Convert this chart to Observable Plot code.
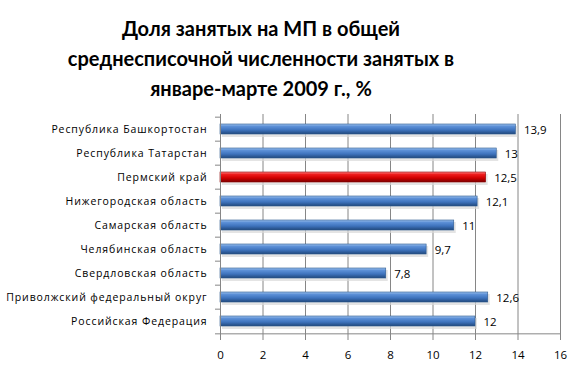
<!DOCTYPE html>
<html>
<head>
<meta charset="utf-8">
<script src="https://cdn.jsdelivr.net/npm/d3@7"></script>
<script src="https://cdn.jsdelivr.net/npm/@observablehq/plot@0.6"></script>
<style>
  html, body { margin: 0; padding: 0; background: #fff; }
  #wrap { width: 582px; height: 379px; position: relative; overflow: hidden; }
  #title { position: absolute; left: 0; top: 13px; width: 522px; text-align: center;
    font-family: Lato, "Open Sans", sans-serif; font-weight: bold; font-size: 20px; line-height: 30px; color: #000; }
  #chart { position: absolute; left: 0; top: 105px; }
  #chart g[aria-label="y-axis tick label"] text { letter-spacing: 0.9px; }
</style>
</head>
<body>
<div id="wrap">
  <div id="title">Доля занятых на МП в общей<br>среднесписочной численности занятых в<br>январе-марте 2009 г., %</div>
  <div id="chart"></div>
</div>
<script>
const categories = [
  "Республика Башкортостан",
  "Республика Татарстан",
  "Пермский край",
  "Нижегородская область",
  "Самарская область",
  "Челябинская область",
  "Свердловская область",
  "Приволжский федеральный округ",
  "Российская Федерация"
];
const values = [13.9, 13, 12.5, 12.1, 11, 9.7, 7.8, 12.6, 12];
const highlight = "Пермский край";
const xTicks = [0, 2, 4, 6, 8, 10, 12, 14, 16];

const data = categories.map((c, i) => ({cat: c, value: values[i], hi: c === highlight}));
const fmt = v => String(v).replace(".", ",");

const W = 582, H = 274, mt = 9, mb = 43;
const step = (H - mt - mb) / categories.length;

const plot = Plot.plot({
  width: W,
  height: H,
  marginLeft: 220,
  marginRight: 22,
  marginTop: mt,
  marginBottom: mb,
  style: {fontFamily: "'Open Sans', sans-serif", background: "transparent"},
  x: {domain: [0, 16], ticks: xTicks, label: null},
  y: {domain: categories, padding: 0, label: null},
  marks: [
    Plot.ruleX(xTicks.filter(t => t > 0), {stroke: "#868686", strokeWidth: 1}),
    // shadow
    Plot.barX(data, {y: "cat", x: "value", insetTop: 9, insetBottom: 4, dx: 2, fill: "#d8d8d8", fillOpacity: 0.7}),
    Plot.barX(data, {y: "cat", x: "value", insetTop: 7, insetBottom: 7,
      fill: d => d.hi ? "url(#gradRed)" : "url(#gradBlue)", stroke: d => d.hi ? "#8c0000" : "#2c5a8f", strokeWidth: 0.6}),
    Plot.text(data, {y: "cat", x: "value", text: d => fmt(d.value), textAnchor: "start", dx: 8, dy: 1,
      fontSize: 11.5, fill: "#000"}),
    Plot.ruleX([0], {stroke: "#868686"}),
    Plot.ruleY([0], {y: () => categories[categories.length - 1], dy: step / 2, stroke: "#868686"}),
    Plot.axisX({ticks: xTicks, tickSize: 4, tickPadding: 10, tickFormat: d => String(d), fontSize: 11.5,
      stroke: "#868686", color: "#000", label: null}),
    Plot.axisY({tickSize: 0, tickPadding: 13, fontSize: 10.5, color: "#000", label: null}),
    Plot.axisY({tickSize: 5, text: null, dy: -step / 2, stroke: "#868686", label: null}),
    Plot.axisY([categories[categories.length - 1]], {tickSize: 5, text: null, dy: step / 2, stroke: "#868686", label: null})
  ]
});

const ns = "http://www.w3.org/2000/svg";
const defs = document.createElementNS(ns, "defs");
function grad(id, stops) {
  const g = document.createElementNS(ns, "linearGradient");
  g.setAttribute("id", id);
  g.setAttribute("x1", "0"); g.setAttribute("y1", "0");
  g.setAttribute("x2", "0"); g.setAttribute("y2", "1");
  for (const [o, c] of stops) {
    const s = document.createElementNS(ns, "stop");
    s.setAttribute("offset", o);
    s.setAttribute("stop-color", c);
    g.appendChild(s);
  }
  defs.appendChild(g);
}
grad("gradBlue", [["0", "#9cc0ec"], ["0.25", "#5b8fd6"], ["0.6", "#3e73bd"], ["1", "#21487c"]]);
grad("gradRed", [["0", "#ff8080"], ["0.25", "#ee1c1c"], ["0.6", "#d00000"], ["1", "#7c0000"]]);
plot.insertBefore(defs, plot.firstChild);
document.getElementById("chart").appendChild(plot);
</script>
</body>
</html>
